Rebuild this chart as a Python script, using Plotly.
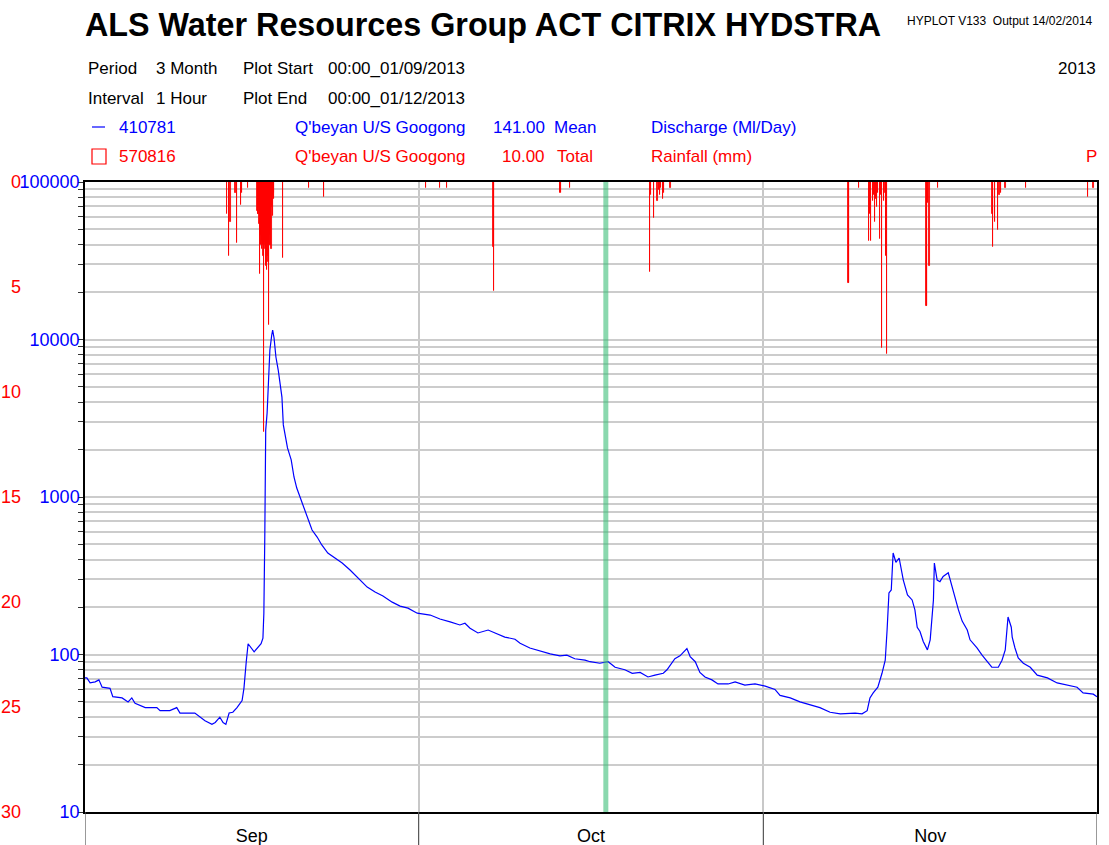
import plotly.graph_objects as go

# ---------------- data ----------------
flow_time = [
    "2013-09-01 00:00", "2013-09-01 04:00", "2013-09-01 11:00", "2013-09-01 22:00",
    "2013-09-02 06:00", "2013-09-02 13:00", "2013-09-03 06:00", "2013-09-03 12:00",
    "2013-09-04 08:00", "2013-09-04 21:00", "2013-09-05 05:00", "2013-09-05 12:00",
    "2013-09-06 10:00", "2013-09-07 11:00", "2013-09-07 18:00", "2013-09-08 15:00",
    "2013-09-09 06:00", "2013-09-09 13:00", "2013-09-10 21:00", "2013-09-11 08:00",
    "2013-09-11 19:00", "2013-09-12 10:00", "2013-09-12 17:00", "2013-09-13 03:00",
    "2013-09-13 10:00", "2013-09-13 16:00", "2013-09-13 23:00", "2013-09-14 07:00",
    "2013-09-14 16:00", "2013-09-15 03:00", "2013-09-15 07:00", "2013-09-15 12:00",
    "2013-09-15 16:00", "2013-09-16 05:00", "2013-09-16 13:00", "2013-09-16 20:00",
    "2013-09-17 00:00", "2013-09-17 02:00", "2013-09-17 04:00", "2013-09-17 06:00",
    "2013-09-17 09:00", "2013-09-17 12:00", "2013-09-17 15:00", "2013-09-17 19:00",
    "2013-09-17 21:00", "2013-09-18 00:00", "2013-09-18 04:00", "2013-09-18 09:00",
    "2013-09-18 13:00", "2013-09-18 17:00", "2013-09-18 20:00", "2013-09-19 00:00",
    "2013-09-19 05:00", "2013-09-19 13:00", "2013-09-19 19:00", "2013-09-20 01:00",
    "2013-09-20 08:00", "2013-09-20 17:00", "2013-09-21 01:00", "2013-09-21 10:00",
    "2013-09-21 21:00", "2013-09-22 07:00", "2013-09-22 20:00", "2013-09-23 12:00",
    "2013-09-24 03:00", "2013-09-24 20:00", "2013-09-25 13:00", "2013-09-26 09:00",
    "2013-09-27 02:00", "2013-09-27 19:00", "2013-09-28 15:00", "2013-09-29 08:00",
    "2013-09-30 01:00", "2013-09-30 21:00", "2013-10-02 01:00", "2013-10-02 22:00",
    "2013-10-03 20:00", "2013-10-04 17:00", "2013-10-05 04:00", "2013-10-05 15:00",
    "2013-10-06 08:00", "2013-10-07 06:00", "2013-10-07 21:00", "2013-10-08 18:00",
    "2013-10-09 16:00", "2013-10-10 03:00", "2013-10-11 00:00", "2013-10-11 22:00",
    "2013-10-12 20:00", "2013-10-13 17:00", "2013-10-14 08:00", "2013-10-15 01:00",
    "2013-10-15 23:00", "2013-10-16 10:00", "2013-10-17 07:00", "2013-10-18 01:00",
    "2013-10-18 16:00", "2013-10-19 13:00", "2013-10-20 05:00", "2013-10-20 22:00",
    "2013-10-21 15:00", "2013-10-22 06:00", "2013-10-23 00:00", "2013-10-23 08:00",
    "2013-10-23 19:00", "2013-10-24 01:00", "2013-10-24 12:00", "2013-10-24 23:00",
    "2013-10-25 03:00", "2013-10-25 10:00", "2013-10-25 21:00", "2013-10-26 07:00",
    "2013-10-26 18:00", "2013-10-27 09:00", "2013-10-27 22:00", "2013-10-28 20:00",
    "2013-10-29 11:00", "2013-10-30 08:00", "2013-10-31 06:00", "2013-11-01 04:00",
    "2013-11-02 01:00", "2013-11-02 12:00", "2013-11-03 10:00", "2013-11-04 07:00",
    "2013-11-05 05:00", "2013-11-06 02:00", "2013-11-07 00:00", "2013-11-07 22:00",
    "2013-11-09 06:00", "2013-11-09 21:00", "2013-11-10 08:00", "2013-11-10 14:00",
    "2013-11-10 21:00", "2013-11-11 07:00", "2013-11-11 16:00", "2013-11-11 23:00",
    "2013-11-12 03:00", "2013-11-12 07:00", "2013-11-12 12:00", "2013-11-12 16:00",
    "2013-11-12 22:00", "2013-11-13 05:00", "2013-11-13 14:00", "2013-11-13 23:00",
    "2013-11-14 09:00", "2013-11-14 15:00", "2013-11-14 20:00", "2013-11-15 02:00",
    "2013-11-15 09:00", "2013-11-15 18:00", "2013-11-16 00:00", "2013-11-16 07:00",
    "2013-11-16 09:00", "2013-11-16 15:00", "2013-11-16 21:00", "2013-11-17 04:00",
    "2013-11-17 15:00", "2013-11-17 19:00", "2013-11-18 06:00", "2013-11-18 13:00",
    "2013-11-18 21:00", "2013-11-19 08:00", "2013-11-19 14:00", "2013-11-20 05:00",
    "2013-11-20 16:00", "2013-11-21 04:00", "2013-11-21 13:00", "2013-11-22 03:00",
    "2013-11-22 11:00", "2013-11-22 18:00", "2013-11-22 22:00", "2013-11-23 00:00",
    "2013-11-23 07:00", "2013-11-23 09:00", "2013-11-23 15:00", "2013-11-23 22:00",
    "2013-11-24 09:00", "2013-11-25 00:00", "2013-11-25 15:00", "2013-11-26 13:00",
    "2013-11-27 10:00", "2013-11-28 08:00", "2013-11-29 05:00", "2013-11-29 18:00",
    "2013-11-30 16:00", "2013-12-01 00:00",
]
flow_mld = [
    71, 71, 66, 67,
    69, 62, 61, 54,
    53, 50, 53, 49,
    46, 46, 44, 44,
    46, 42.5, 42.5, 40,
    38, 36, 37, 40,
    37, 36, 42.5, 43,
    46, 51, 61, 90,
    117, 104, 110, 117,
    127, 183, 557, 2660,
    3410, 5700, 8580, 10680,
    11480, 10220, 7740, 6400,
    5070, 4310, 2870, 2400,
    2050, 1720, 1340, 1140,
    1000, 827, 714, 617,
    557, 496, 441, 410,
    381, 344, 306, 268,
    249, 235, 215, 203,
    197, 183, 178, 168,
    161, 154, 158, 147,
    137, 143, 137, 129,
    125, 118, 110, 105,
    101, 98, 99, 94,
    92, 90, 88, 90,
    83, 80, 76, 77,
    72, 74, 76, 80,
    88, 94, 98, 107,
    109, 97, 90, 77,
    72, 69, 65, 65,
    67, 64, 65, 63,
    60, 55, 53, 50,
    48, 46, 43, 42,
    42.5, 42, 44, 53,
    57, 62, 76, 92,
    143, 246, 257, 441,
    385, 410, 297, 239,
    222, 192, 149, 140,
    121, 107, 124, 222,
    381, 297, 290, 313,
    330, 297, 232, 192,
    163, 143, 124, 110,
    99, 90, 83, 83,
    92, 107, 166, 173,
    149, 129, 110, 95,
    88, 83, 74, 71,
    66, 64, 62, 57,
    56, 54,
]

rain_time = [
    "2013-09-13 18:00", "2013-09-13 23:00", "2013-09-14 02:00", "2013-09-14 13:00",
    "2013-09-14 16:00", "2013-09-15 01:00", "2013-09-15 03:00", "2013-09-15 16:00",
    "2013-09-16 12:00", "2013-09-16 13:00", "2013-09-16 14:00", "2013-09-16 15:00",
    "2013-09-16 16:00", "2013-09-16 17:00", "2013-09-16 18:00", "2013-09-16 19:00",
    "2013-09-16 20:00", "2013-09-16 21:00", "2013-09-16 22:00", "2013-09-16 23:00",
    "2013-09-17 00:00", "2013-09-17 01:00", "2013-09-17 02:00", "2013-09-17 03:00",
    "2013-09-17 04:00", "2013-09-17 05:00", "2013-09-17 06:00", "2013-09-17 07:00",
    "2013-09-17 08:00", "2013-09-17 09:00", "2013-09-17 10:00", "2013-09-17 11:00",
    "2013-09-17 12:00", "2013-09-17 13:00", "2013-09-17 14:00", "2013-09-17 15:00",
    "2013-09-17 16:00", "2013-09-17 17:00", "2013-09-17 18:00", "2013-09-17 19:00",
    "2013-09-17 20:00", "2013-09-17 21:00", "2013-09-17 22:00", "2013-09-17 23:00",
    "2013-09-18 00:00", "2013-09-18 19:00", "2013-09-21 03:00", "2013-09-22 12:00",
    "2013-10-01 16:00", "2013-10-02 22:00", "2013-10-03 13:00", "2013-10-07 17:00",
    "2013-10-07 19:00", "2013-10-13 17:00", "2013-10-13 19:00", "2013-10-14 15:00",
    "2013-10-21 19:00", "2013-10-21 21:00", "2013-10-22 04:00", "2013-10-22 11:00",
    "2013-10-22 15:00", "2013-10-22 17:00", "2013-10-22 19:00", "2013-10-22 23:00",
    "2013-10-23 02:00", "2013-10-23 15:00",
    "2013-11-08 16:00", "2013-11-08 17:00", "2013-11-09 14:00", "2013-11-10 12:00",
    "2013-11-10 14:00", "2013-11-10 16:00", "2013-11-10 21:00", "2013-11-10 23:00",
    "2013-11-11 01:00", "2013-11-11 03:00", "2013-11-11 05:00", "2013-11-11 07:00",
    "2013-11-11 12:00", "2013-11-11 14:00", "2013-11-11 16:00", "2013-11-11 20:00",
    "2013-11-11 23:00", "2013-11-12 01:00", "2013-11-12 03:00", "2013-11-15 16:00",
    "2013-11-15 17:00", "2013-11-15 19:00", "2013-11-15 22:00", "2013-11-16 17:00",
    "2013-11-21 15:00", "2013-11-21 16:00", "2013-11-21 20:00", "2013-11-22 02:00",
    "2013-11-22 05:00", "2013-11-22 09:00", "2013-11-22 18:00", "2013-11-24 15:00",
    "2013-11-30 05:00", "2013-11-30 16:00",
]
rain_mm = [
    1.5, 3.5, 1.9, 0.5,
    2.9, 1.1, 0.5, 0.3,
    1.4, 1.5, 0.8, 1.5,
    1.2, 2.0, 4.4, 2.5,
    3.0, 2.2, 3.2, 2.8,
    3.0, 3.5, 11.9, 3.0,
    2.6, 3.2, 2.8, 4.0,
    3.0, 4.2, 3.5, 3.0,
    3.8, 6.8, 3.0, 2.5,
    3.0, 2.0, 3.2, 1.0,
    1.2, 0.6, 1.6, 0.5,
    0.8, 3.6, 0.3, 0.7,
    0.3, 0.3, 0.3, 3.1,
    5.2, 0.5, 0.5, 0.3,
    4.3, 0.6, 1.7, 0.9,
    0.4, 0.6, 0.3, 0.8,
    0.5, 0.3,
    4.8, 4.8, 0.3, 2.8,
    1.5, 2.8, 0.9, 0.6,
    1.9, 0.8, 1.2, 0.5,
    2.7, 0.6, 7.9, 0.9,
    0.5, 3.5, 8.2, 5.9,
    5.9, 1.0, 4.0, 0.3,
    1.5, 3.1, 1.9, 2.3,
    0.6, 0.5, 0.3, 0.3,
    0.7, 0.3,
]

flow_ticks = [10, 100, 1000, 10000, 100000]
rain_ticks = [0, 5, 10, 15, 20, 25, 30]
month_starts = ["2013-09-01", "2013-10-01", "2013-11-01", "2013-12-01"]
marker_time = "2013-10-17 20:00"

# ---------------- layout helpers ----------------
W, H = 1109, 845
ML, MR, MT, MB = 0, 12, 182, 33
PW = W - ML - MR
PH = H - MT - MB


def px(X):
    return (X - ML) / PW


def py(Y):
    return (H - MB - Y) / PH


FONT = "Liberation Sans, Arial, sans-serif"
BLUE = "#0000ff"
RED = "#ff0000"

# log ticks: labels on decades, unlabeled ticks/grid on 2..9
flow_tickvals, flow_ticktext = [], []
for dec in flow_ticks[:-1]:
    for k in range(1, 10):
        flow_tickvals.append(dec * k)
        flow_ticktext.append(str(dec) if k == 1 else "")
flow_tickvals.append(flow_ticks[-1])
flow_ticktext.append(str(flow_ticks[-1]))

fig = go.Figure()

fig.add_trace(go.Bar(
    x=rain_time, y=rain_mm, yaxis="y2",
    width=3600000 * 1.2,
    marker=dict(color="rgba(255,40,40,0.55)", line=dict(color=RED, width=0.9)),
    showlegend=False, hoverinfo="x+y",
))

fig.add_trace(go.Scatter(
    x=flow_time, y=flow_mld, mode="lines",
    line=dict(color=BLUE, width=1.2),
    showlegend=False,
))

fig.update_layout(
    width=W, height=H, autosize=False,
    margin=dict(l=ML, r=MR, t=MT, b=MB),
    paper_bgcolor="white", plot_bgcolor="white",
    font=dict(family=FONT, size=17, color="black"),
    bargap=0,
    xaxis=dict(
        type="date", domain=[px(85), 1],
        range=["2013-09-01", "2013-12-01"],
        dtick="M1", tick0="2013-09-01", tickformat="%b",
        ticklabelmode="period", ticks="", ticklabelstandoff=7,
        tickfont=dict(size=18, color="black"),
        showgrid=True, gridcolor="#c8c8c8", gridwidth=1.5,
        showline=True, linecolor="black", linewidth=1.5, mirror=True,
        zeroline=False,
    ),
    yaxis=dict(
        type="log", range=[1, 5],
        tickvals=flow_tickvals, ticktext=flow_ticktext,
        ticks="outside", ticklen=5, tickcolor="#333", tickwidth=1,
        ticklabelstandoff=-5,
        tickfont=dict(size=18, color=BLUE),
        showgrid=True, gridcolor="#cccccc", gridwidth=1.5,
        showline=True, linecolor="black", linewidth=1.5, mirror=True,
        zeroline=False,
    ),
    yaxis2=dict(
        overlaying="y", anchor="free", side="left", position=px(21),
        range=[30, 0], tickvals=rain_ticks, ticks="",
        tickfont=dict(size=18, color=RED),
        showgrid=False, showline=False, zeroline=False,
    ),
)

shapes = []
# month boundary ticks extending below the axis
for m in month_starts:
    shapes.append(dict(type="line", xref="x", yref="paper", x0=m, x1=m,
                       y0=0, y1=-MB / PH, line=dict(color="#555", width=1.2)))
# current-time marker
shapes.append(dict(type="line", xref="x", yref="paper", x0=marker_time, x1=marker_time,
                   y0=0, y1=1, line=dict(color="rgba(60,190,120,0.6)", width=5)))
# legend symbols
shapes.append(dict(type="line", xref="paper", yref="paper", x0=px(92), x1=px(105),
                   y0=py(127), y1=py(127), line=dict(color=BLUE, width=1.2)))
shapes.append(dict(type="rect", xref="paper", yref="paper", x0=px(92), x1=px(106),
                   y0=py(164), y1=py(149), line=dict(color=RED, width=1.2)))
fig.update_layout(shapes=shapes)

ann = []


def text(X, Y, s, color="black", size=17, anchor="left", bold=False):
    ann.append(dict(xref="paper", yref="paper", x=px(X), y=py(Y),
                    text=("<b>%s</b>" % s) if bold else s,
                    showarrow=False, xanchor=anchor, yanchor="middle",
                    font=dict(family=FONT, size=size, color=color)))


text(83, 25, "ALS Water Resources Group ACT CITRIX HYDSTRA", size=32.3, bold=True)
text(905, 21, "HYPLOT V133  Output 14/02/2014", size=12)
text(86, 69, "Period")
text(154, 69, "3 Month")
text(241, 69, "Plot Start")
text(326, 69, "00:00_01/09/2013")
text(1098, 69, "2013", anchor="right")
text(86, 98, "Interval")
text(154, 98, "1 Hour")
text(241, 98, "Plot End")
text(326, 98, "00:00_01/12/2013")
text(117, 127, "410781", color=BLUE)
text(293, 127, "Q'beyan U/S Googong", color=BLUE)
text(547, 127, "141.00", color=BLUE, anchor="right")
text(552, 127, "Mean", color=BLUE)
text(649, 127, "Discharge (Ml/Day)", color=BLUE)
text(117, 157, "570816", color=RED)
text(293, 157, "Q'beyan U/S Googong", color=RED)
text(547, 157, "10.00", color=RED, anchor="right")
text(555, 157, "Total", color=RED)
text(649, 157, "Rainfall (mm)", color=RED)
text(1099, 157, "P", color=RED, anchor="right")
fig.update_layout(annotations=ann)

fig.write_html("out.html", config={"displayModeBar": False},
               post_script="document.body.style.margin='0';")
